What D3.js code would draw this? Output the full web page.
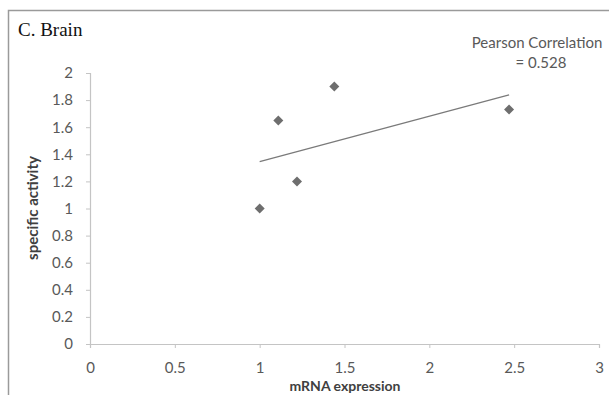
<!DOCTYPE html>
<html>
<head>
<meta charset="utf-8">
<script src="https://cdn.jsdelivr.net/npm/d3@7"></script>
<style>
  body { margin: 0; background: #fff; }
  text { font-family: Lato, "Open Sans", sans-serif; }
</style>
</head>
<body>
<svg id="svg"></svg>
<script>
const W = 609, H = 395;

// values
const expression = [1.0, 1.11, 1.22, 1.44, 2.47];
const activity = [1.0, 1.65, 1.20, 1.90, 1.73];
const xTicks = [0, 0.5, 1, 1.5, 2, 2.5, 3];
const yTicks = [0, 0.2, 0.4, 0.6, 0.8, 1, 1.2, 1.4, 1.6, 1.8, 2];
const pearsonLines = ["Pearson Correlation", "= 0.528"];

const svg = d3.select("#svg").attr("width", W).attr("height", H);

// outer frame
svg.append("path")
    .attr("d", "M8.5,395 V10.5 H609")
    .attr("fill", "none")
    .attr("stroke", "#9a9a9a")
    .attr("stroke-width", 1.5);

svg.append("text")
    .attr("x", 18).attr("y", 36)
    .style("font-family", "'Liberation Serif', 'Times New Roman', serif")
    .style("font-size", "19px")
    .attr("fill", "#111")
    .text("C. Brain");

const x = d3.scaleLinear().domain([0, 3]).range([90, 599]);
const y = d3.scaleLinear().domain([0, 2]).range([344, 73]);

const xAxis = svg.append("g")
    .attr("transform", `translate(0,${y(0)})`)
    .call(d3.axisBottom(x).tickValues(xTicks).tickSize(4).tickPadding(14).tickFormat(d3.format("")));
const yAxis = svg.append("g")
    .attr("transform", `translate(${x(0)},0)`)
    .call(d3.axisLeft(y).tickValues(yTicks).tickSize(4).tickPadding(13).tickFormat(d3.format("")));

[xAxis, yAxis].forEach(g => {
    g.select(".domain").attr("stroke", "#c4c4c4").attr("stroke-width", 1.2);
    g.selectAll(".tick line").attr("stroke", "#c4c4c4");
    g.selectAll(".tick text")
        .attr("fill", "#595959")
        .style("font-size", "15px");
});

svg.append("text")
    .attr("x", 345).attr("y", 391)
    .attr("text-anchor", "middle")
    .style("font-size", "14px").style("font-weight", "bold")
    .attr("fill", "#404040")
    .text("mRNA expression");

svg.append("text")
    .attr("transform", "translate(38,208) rotate(-90)")
    .attr("text-anchor", "middle")
    .style("font-size", "15px").style("font-weight", "bold")
    .attr("fill", "#404040")
    .text("specific activity");

// least squares trend line
const mx = d3.mean(expression), my = d3.mean(activity);
const slope = d3.sum(expression, (v, i) => (v - mx) * (activity[i] - my)) /
    d3.sum(expression, v => (v - mx) * (v - mx));
const fit = v => my + slope * (v - mx);
const xr = d3.extent(expression);
svg.append("line")
    .attr("x1", x(xr[0])).attr("y1", y(fit(xr[0])))
    .attr("x2", x(xr[1])).attr("y2", y(fit(xr[1])))
    .attr("stroke", "#7a7a7a")
    .attr("stroke-width", 1.2);

const pts = expression.map((v, i) => ({ x: v, y: activity[i] }));
svg.selectAll(".pt").data(pts).enter().append("path")
    .attr("class", "pt")
    .attr("d", d3.symbol().type(d3.symbolSquare).size(50))
    .attr("transform", d => `translate(${x(d.x)},${y(d.y)}) rotate(45)`)
    .attr("fill", "#6e6e6e");

svg.append("g").selectAll("text").data(pearsonLines).enter().append("text")
    .attr("x", (d, i) => i === 0 ? 537 : 541)
    .attr("y", (d, i) => 48 + i * 20)
    .attr("text-anchor", "middle")
    .style("font-size", "15px")
    .attr("fill", "#595959")
    .text(d => d);
</script>
</body>
</html>
